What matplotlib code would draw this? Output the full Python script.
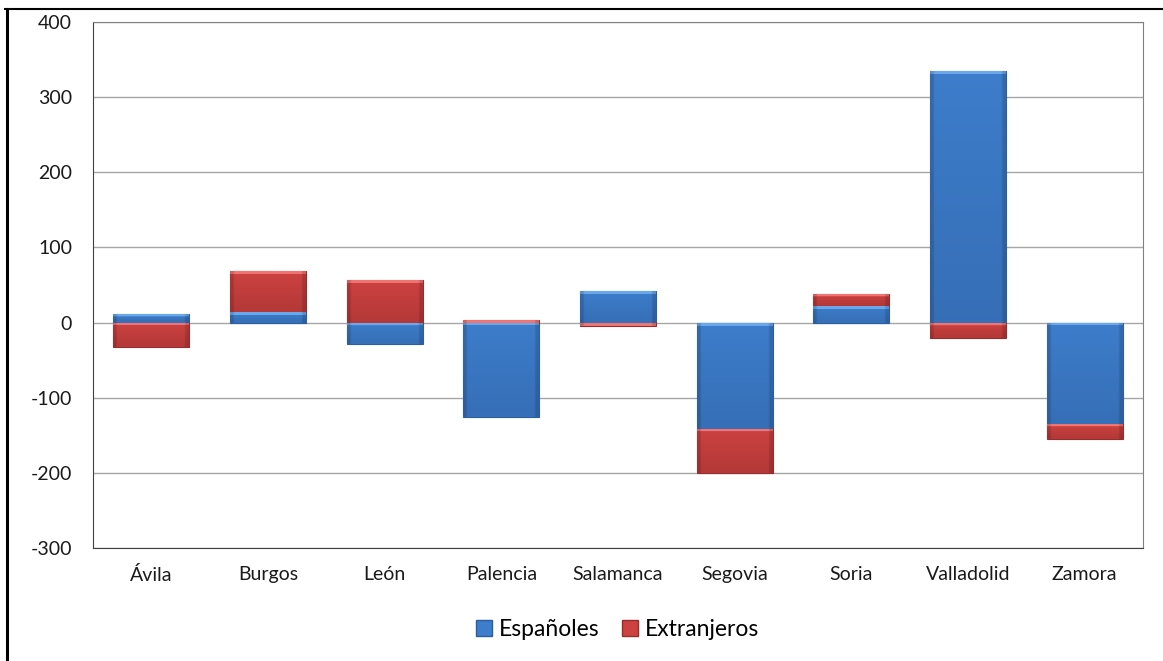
import matplotlib as mpl
mpl.use("Agg")
import matplotlib.pyplot as plt
import numpy as np
from matplotlib.lines import Line2D
from matplotlib.patches import Patch

provincias = ["Ávila", "Burgos", "León", "Palencia", "Salamanca",
              "Segovia", "Soria", "Valladolid", "Zamora"]
espanoles = [12, 14, -28, -126, 42, -141, 22, 335, -135]
extranjeros = [-33, 54, 57, 4, -4, -59, 16, -20, -20]
y_ticks = [-300, -200, -100, 0, 100, 200, 300, 400]

plt.rcParams["font.family"] = ["Lato", "DejaVu Sans"]
plt.rcParams["axes.unicode_minus"] = False

# (claro, medio, oscuro)
AZUL = ("#6aa8ec", "#3d7dcb", "#2d5d9c")
ROJO = ("#f27472", "#cc4241", "#952d2c")


def bevel_bar(ax, x, h, bottom, width, cols, px_per_unit):
    """Barra con degradado vertical y borde claro arriba (imitando Excel)."""
    bars = ax.bar(x, h, width=width, bottom=bottom, color=cols[1],
                  edgecolor=cols[2], linewidth=0.8, zorder=3)
    c_light, c_mid, c_dark = (np.array(mpl.colors.to_rgb(c)) for c in cols)
    for b in bars:
        x0, y0 = b.get_x(), b.get_y()
        w, hh = b.get_width(), b.get_height()
        if hh == 0:
            continue
        ylo, yhi = min(y0, y0 + hh), max(y0, y0 + hh)
        npx = max(int(round(abs(hh) * px_per_unit)), 2)
        t = np.arange(npx) / max(npx - 1, 1)
        rows = np.empty((npx, 3))
        for i in range(npx):
            if i < 3:
                rows[i] = c_light
            elif i >= npx - 3:
                rows[i] = c_mid * 0.6 + c_dark * 0.4
            else:
                rows[i] = c_mid * (1 - 0.45 * t[i]) + c_dark * 0.45 * t[i]
        img = np.repeat(rows[:, None, :], 40, axis=1)
        # lados ligeramente más oscuros
        img[:, :2] = img[:, :2] * 0.85
        img[:, -2:] = img[:, -2:] * 0.85
        im = ax.imshow(img, aspect="auto", extent=(x0, x0 + w, ylo, yhi),
                       origin="upper", zorder=3.5, interpolation="bilinear")
        im.set_clip_path(b)
    return bars


fig = plt.figure(figsize=(11.63, 6.61), dpi=100)
ax = fig.add_axes([0.0800, 0.1710, 0.9028, 0.7957])

ax.set_xlim(-0.5, len(provincias) - 0.5)
ax.set_ylim(-300, 400)
px_per_unit = 0.7957 * 661 / 700

x = np.arange(len(provincias))
esp = np.array(espanoles, dtype=float)
ext = np.array(extranjeros, dtype=float)

pos_base = np.zeros(len(x))
neg_base = np.zeros(len(x))
for vals, cols in ((esp, AZUL), (ext, ROJO)):
    bottom = np.where(vals >= 0, pos_base, neg_base)
    bevel_bar(ax, x, vals, bottom, 0.65, cols, px_per_unit)
    pos_base = np.where(vals >= 0, pos_base + vals, pos_base)
    neg_base = np.where(vals < 0, neg_base + vals, neg_base)

ax.set_xlim(-0.5, len(x) - 0.5)
ax.set_ylim(-300, 400)
ax.set_yticks(y_ticks)
ax.set_xticks(x)
ax.set_xticklabels(provincias)
ax.tick_params(axis="both", length=0, labelsize=14, colors="#1a1a1a")
ax.tick_params(axis="y", pad=15)
ax.tick_params(axis="x", pad=13)
ax.yaxis.grid(True, color="#a6a6a6", linewidth=1.0, zorder=0)
ax.set_axisbelow(True)
for s in ("top", "right"):
    ax.spines[s].set_color("#808080")
for s in ("left", "bottom"):
    ax.spines[s].set_color("#404040")

handles = [Patch(facecolor=AZUL[1], edgecolor=AZUL[2], label="Españoles"),
           Patch(facecolor=ROJO[1], edgecolor=ROJO[2], label="Extranjeros")]
fig.legend(handles=handles, loc="center", bbox_to_anchor=(0.531, 0.048),
           ncol=2, frameon=False, fontsize=16.5, handlelength=0.7,
           handleheight=0.7, handletextpad=0.3, columnspacing=1.0)

# marco exterior (parcial, como en la captura)
fig.add_artist(Line2D([5 / 1163, 1], [1 - 9 / 661] * 2, color="black", lw=1.5,
                      transform=fig.transFigure))
fig.add_artist(Line2D([6.5 / 1163] * 2, [0, 1 - 9 / 661], color="black", lw=2.2,
                      transform=fig.transFigure))

fig.savefig("out.png", dpi=100)
